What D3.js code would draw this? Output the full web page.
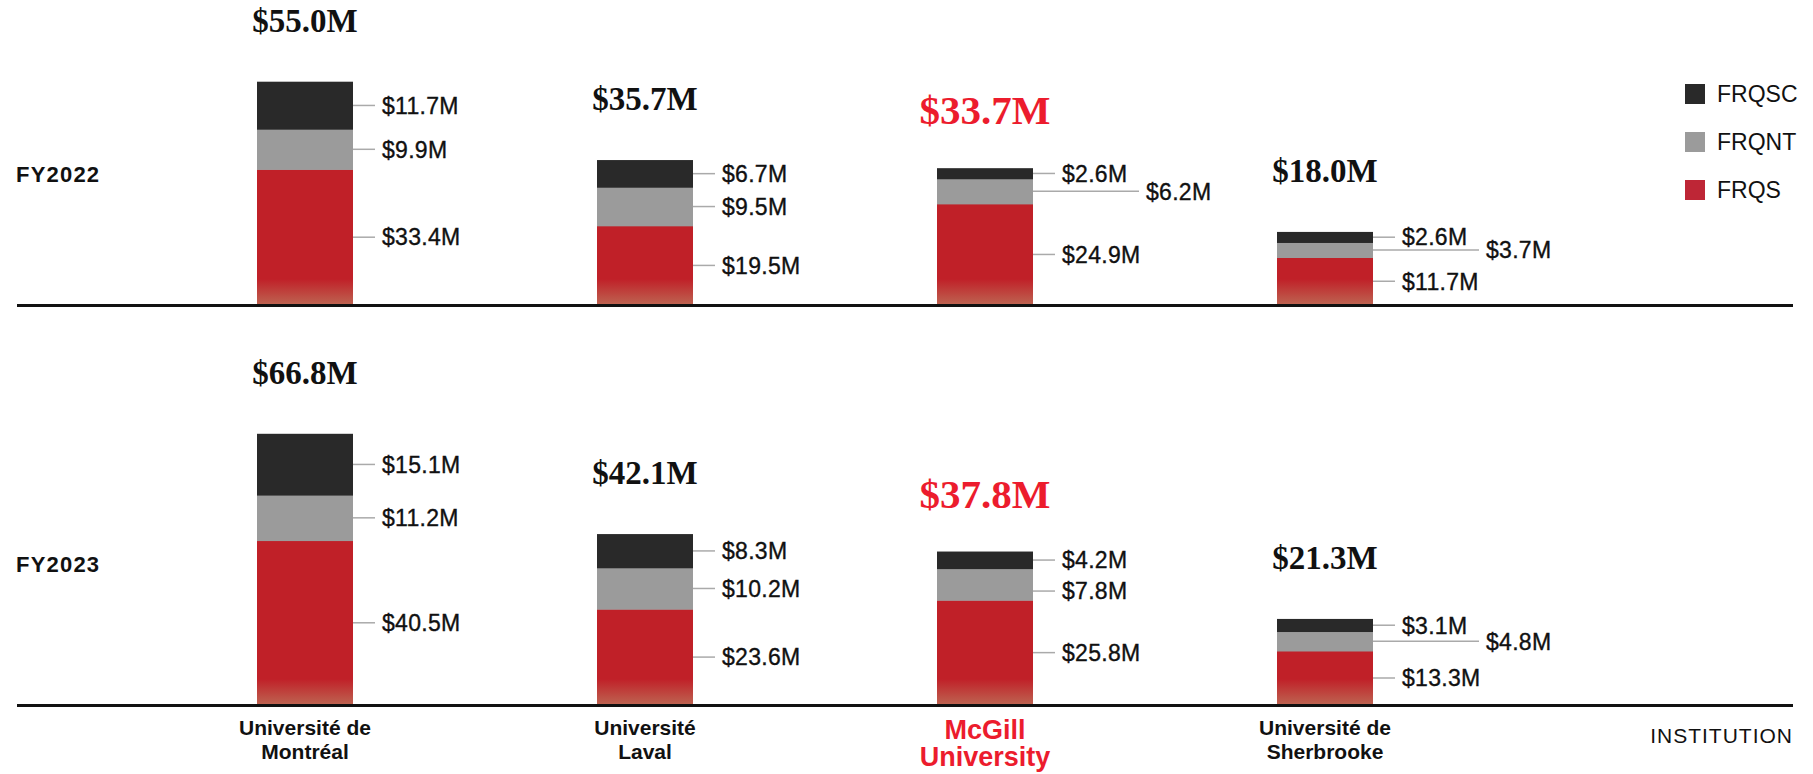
<!DOCTYPE html>
<html>
<head>
<meta charset="utf-8">
<script src="https://cdn.jsdelivr.net/npm/d3@7"></script>
<style>
  body { margin: 0; background: #fff; }
  svg { display: block; }
  .val { font-family: "Liberation Sans", Arial, sans-serif; font-size: 23px; letter-spacing: 0.3px; fill: #111; stroke: #111; stroke-width: 0.35px; }
  .total { font-family: "Liberation Serif", "Times New Roman", serif; font-weight: bold; }
  .fy { font-family: "Liberation Sans", Arial, sans-serif; font-size: 22px; font-weight: bold; letter-spacing: 1.2px; fill: #111; }
  .inst { font-family: "Liberation Sans", Arial, sans-serif; font-weight: bold; text-anchor: middle; }
</style>
</head>
<body>
<svg id="chart" width="1813" height="774"></svg>
<script>
// values in millions of dollars
var institutions = ["Université de Montréal", "Université Laval", "McGill University", "Université de Sherbrooke"];
var instLines = [["Université de", "Montréal"], ["Université", "Laval"], ["McGill", "University"], ["Université de", "Sherbrooke"]];
var years = ["FY2022", "FY2023"];
var series = ["FRQS", "FRQNT", "FRQSC"];

var frqs2022 = [33.4, 19.5, 24.9, 11.7];
var frqnt2022 = [9.9, 9.5, 6.2, 3.7];
var frqsc2022 = [11.7, 6.7, 2.6, 2.6];
var totals2022 = [55.0, 35.7, 33.7, 18.0];

var frqs2023 = [40.5, 23.6, 25.8, 13.3];
var frqnt2023 = [11.2, 10.2, 7.8, 4.8];
var frqsc2023 = [15.1, 8.3, 4.2, 3.1];
var totals2023 = [66.8, 42.1, 37.8, 21.3];

var highlight = "McGill University";

var colors = {FRQS: "#c02028", FRQNT: "#9b9b9b", FRQSC: "#292929"};
var legendColors = {FRQS: "#be2636", FRQNT: "#9b9b9b", FRQSC: "#292929"};
var red = "#ec1c2d";

var svg = d3.select("#chart");
var defs = svg.append("defs");
var grad = defs.append("linearGradient").attr("id", "fade")
    .attr("x1", 0).attr("y1", 0).attr("x2", 0).attr("y2", 1);
grad.append("stop").attr("offset", "0%").attr("stop-color", "#c02028");
grad.append("stop").attr("offset", "100%").attr("stop-color", "#bd6a55");

var pxPerM = 4.06;
var barW = 96;
var x = d3.scalePoint().domain(institutions).range([305, 1325]);

var panels = [
  {year: years[0], base: 305, fyY: 182, data: [frqs2022, frqnt2022, frqsc2022], totals: totals2022},
  {year: years[1], base: 705, fyY: 572, data: [frqs2023, frqnt2023, frqsc2023], totals: totals2023}
];

var fmt = function(v) { return "$" + d3.format(".1f")(v) + "M"; };

panels.forEach(function(p) {
  var rows = institutions.map(function(name, i) {
    var r = {name: name};
    series.forEach(function(s, k) { r[s] = p.data[k][i]; });
    return r;
  });
  var stack = d3.stack().keys(series)(rows);
  var y = d3.scaleLinear().domain([0, 100]).range([p.base, p.base - 100 * pxPerM]);
  var g = svg.append("g");

  g.append("text").attr("class", "fy").attr("x", 16).attr("y", p.fyY).text(p.year);

  // bars
  stack.forEach(function(layer) {
    g.selectAll(null).data(layer).enter().append("rect")
      .attr("x", function(d) { return x(d.data.name) - barW / 2; })
      .attr("y", function(d) { return y(d[1]); })
      .attr("width", barW)
      .attr("height", function(d) { return y(d[0]) - y(d[1]) + (d[0] === 0 ? 2 : 0.5); })
      .attr("fill", colors[layer.key]);
  });
  // bottom fade on red
  g.selectAll(null).data(stack[0]).enter().append("rect")
    .attr("x", function(d) { return x(d.data.name) - barW / 2; })
    .attr("y", p.base - 26)
    .attr("width", barW)
    .attr("height", 28)
    .attr("fill", "url(#fade)");

  // segment labels with leader lines
  institutions.forEach(function(name, i) {
    var cx = x(name);
    var lastMid = null;
    stack.slice().reverse().forEach(function(layer) {
      var d = layer[i];
      var mid = (y(d[0]) + y(d[1])) / 2;
      var shifted = lastMid !== null && mid - lastMid < 22;
      if (!shifted && lastMid !== null && mid - lastMid < 30) mid = lastMid + 31;
      if (!shifted) lastMid = mid;
      var x0 = cx + barW / 2, x1 = x0 + (shifted ? 106 : 22);
      g.append("line").attr("x1", x0).attr("x2", x1).attr("y1", mid).attr("y2", mid)
        .attr("stroke", "#aaa").attr("stroke-width", 1.5);
      g.append("text").attr("class", "val").attr("x", x1 + 7).attr("y", mid).attr("dy", "0.36em")
        .text(fmt(d[1] - d[0]));
    });
  });

  // totals
  g.selectAll(null).data(institutions).enter().append("text")
    .attr("class", "total")
    .attr("text-anchor", "middle")
    .attr("x", function(d) { return x(d); })
    .attr("y", function(d, i) {
      var top = y(stack[2][i][1]);
      return d === highlight ? top - 44 : top - 50;
    })
    .attr("font-size", function(d) { return d === highlight ? "41px" : "33px"; })
    .attr("fill", function(d) { return d === highlight ? red : "#111"; })
    .text(function(d, i) { return fmt(p.totals[i]); });

  g.append("line").attr("x1", 17).attr("x2", 1793).attr("y1", p.base + 0.5).attr("y2", p.base + 0.5)
    .attr("stroke", "#111").attr("stroke-width", 3);
});

// institution labels
institutions.forEach(function(name, i) {
  var hi = name === highlight;
  var t = svg.append("text").attr("class", "inst")
    .attr("x", x(name)).attr("y", hi ? 739 : 735)
    .attr("font-size", hi ? "27px" : "21px")
    .attr("fill", hi ? red : "#111");
  instLines[i].forEach(function(line, k) {
    t.append("tspan").attr("x", x(name)).attr("dy", k === 0 ? 0 : (hi ? 27 : 24)).text(line);
  });
});

svg.append("text").attr("x", 1793).attr("y", 743).attr("text-anchor", "end")
  .attr("font-family", "Liberation Sans, Arial, sans-serif").attr("font-size", "21px")
  .attr("letter-spacing", "1px").attr("fill", "#111").text("INSTITUTION");

// legend
var leg = svg.append("g").attr("transform", "translate(1685,84)");
["FRQSC", "FRQNT", "FRQS"].forEach(function(s, k) {
  leg.append("rect").attr("x", 0).attr("y", k * 48).attr("width", 20).attr("height", 20).attr("fill", legendColors[s]);
  leg.append("text").attr("x", 32).attr("y", k * 48 + 10).attr("dy", "0.36em")
    .attr("font-family", "Liberation Sans, Arial, sans-serif").attr("font-size", "23px")
    .attr("fill", "#111").text(s);
});
</script>
</body>
</html>
